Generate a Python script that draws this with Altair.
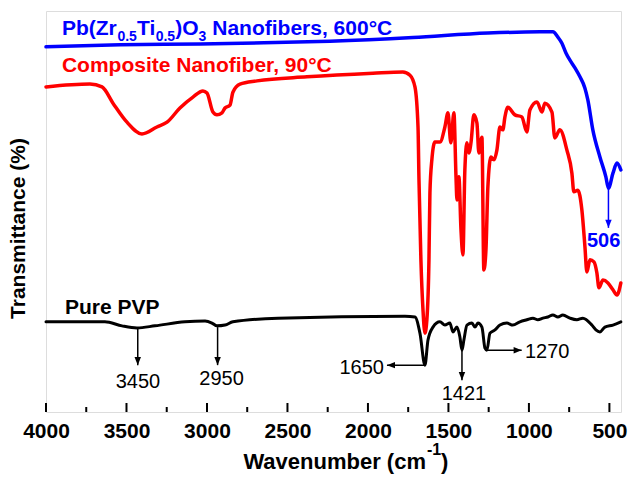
import altair as alt
import pandas as pd

# ---------------- data ----------------
# Pure PVP (black)
pvp_wn = [4000, 3634, 3528, 3435, 3323, 3137, 3012, 2969, 2938, 2888,
          2839, 2559, 1770, 1708, 1677, 1646, 1627, 1596, 1553, 1522,
          1491, 1472, 1447, 1429, 1416, 1404, 1385, 1354, 1335, 1317,
          1292, 1273, 1261, 1242, 1211, 1180, 1137, 1100, 1056, 1013,
          975, 944, 913, 882, 851, 820, 789, 745, 702, 665,
          609, 584, 559, 528, 478, 429]
pvp_t = [23.5, 23.5, 22.5, 22.0, 22.5, 23.5, 23.7, 23.2, 22.5, 22.7,
         23.5, 24.4, 24.9, 24.7, 20.7, 12.8, 19.0, 22.2, 23.5, 22.7,
         23.2, 21.0, 22.2, 19.8, 16.5, 19.0, 22.7, 23.2, 22.2, 23.2,
         22.2, 17.0, 16.5, 20.7, 21.5, 22.7, 23.2, 22.7, 23.5, 24.0,
         24.4, 24.0, 24.4, 24.7, 25.2, 24.7, 25.2, 24.4, 24.0, 24.4,
         22.7, 21.5, 21.0, 22.2, 22.7, 23.5]

# Composite nanofiber, 90 C (red)
comp_wn = [4000, 3727, 3652, 3584, 3497, 3404, 3311, 3248, 3168, 3087,
           3025, 3000, 2963, 2938, 2907, 2888, 2857, 2839, 2795, 2689,
           2379, 1969, 1783, 1739, 1708, 1689, 1683, 1671, 1658, 1646,
           1634, 1621, 1615, 1603, 1584, 1553, 1522, 1503, 1485, 1466,
           1453, 1447, 1435, 1422, 1410, 1398, 1385, 1373, 1360, 1342,
           1323, 1311, 1292, 1280, 1267, 1255, 1236, 1217, 1199, 1180,
           1162, 1149, 1131, 1087, 1044, 1013, 994, 950, 919, 901,
           857, 839, 808, 764, 733, 721, 696, 671, 652, 640,
           621, 596, 578, 565, 540, 509, 478, 453, 429]
comp_t = [81.5, 82.2, 81.5, 77.5, 72.8, 69.9, 71.6, 72.8, 76.3, 79.0,
          80.5, 80.0, 75.3, 74.6, 75.1, 76.3, 77.0, 80.2, 82.2, 83.0,
          84.0, 84.9, 85.2, 84.4, 81.5, 71.6, 58.5, 38.8, 26.4, 20.7,
          24.0, 38.8, 55.3, 63.5, 67.9, 67.9, 71.6, 75.1, 67.7, 75.1,
          59.3, 53.6, 59.3, 46.2, 40.0, 61.0, 67.7, 65.2, 67.7, 74.6,
          72.6, 65.2, 69.1, 36.3, 41.2, 56.8, 64.2, 63.5, 65.9, 71.6,
          70.9, 74.1, 76.5, 74.6, 74.1, 70.4, 75.8, 77.8, 75.3, 77.5,
          75.3, 68.9, 70.9, 65.9, 60.2, 55.6, 56.0, 51.1, 42.0, 35.8,
          38.8, 38.3, 35.6, 31.9, 33.8, 33.1, 31.4, 30.1, 33.1]

# Pb(Zr0.5Ti0.5)O3 nanofibers, 600 C (blue)
pzt_wn = [4000, 3540, 3043, 2646, 2236, 1720, 1255, 932, 851, 820,
          795, 770, 745, 714, 683, 652, 634, 603, 559, 522,
          506, 478, 453, 429]
pzt_t = [91.4, 91.9, 92.1, 92.4, 92.8, 93.7, 94.8, 95.1, 95.1, 93.8,
         92.3, 89.9, 88.1, 86.2, 84.0, 81.2, 78.3, 70.9, 64.2, 59.3,
         56.5, 60.2, 62.7, 61.0]

# axis ticks
major_ticks = [4000, 3500, 3000, 2500, 2000, 1500, 1000, 500]
minor_ticks = [3750, 3250, 2750, 2250, 1750, 1250, 750]

# peak annotations (vertical arrows: start -> tip)
v_arrow_wn = [3430, 2934, 1416]
v_arrow_t0 = [22.0, 22.2, 16.5]
v_arrow_t1 = [12.8, 12.8, 9.1]
v_label_text = ["3450", "2950", "1421"]
v_label_wn = [3429, 2909, 1404]
v_label_t = [8.7, 9.4, 5.7]

# horizontal arrows
h_arrow_t = [12.8, 16.5]
h_arrow_wn0 = [1646, 1261]
h_arrow_wn1 = [1882, 1045]
h_arrow_dir = ["left", "right"]
left_label = ["1650"]
left_label_wn = [1901]
left_label_t = [12.2]
right_label = ["1270"]
right_label_wn = [1025]
right_label_t = [16.1]

# blue peak
pzt_peak_wn = [506]
pzt_peak_t0 = [56.5]
pzt_peak_t1 = [46.7]
pzt_peak_label = ["506"]
pzt_peak_label_wn = [536]
pzt_peak_label_t = [43.5]

# ---------------- chart ----------------
FONT = "Liberation Sans"
W, H = 575, 401
XS = alt.Scale(domain=[428, 4000], reverse=True, nice=False, zero=False)
YS = alt.Scale(domain=[1.23, 100.25], nice=False, zero=False)

XAXIS = alt.Axis(values=major_ticks, format="d", labelFont=FONT, labelFontSize=21,
                 labelFontWeight="bold", labelColor="black", ticks=False, domain=False,
                 grid=False, title=None, labelPadding=8, labelFlush=False,
                 labelOverlap=False)
YAXIS = alt.Axis(labels=False, ticks=False, domain=False, grid=False,
                 title="Transmittance (%)", titleFont=FONT, titleFontSize=21,
                 titleFontWeight="bold", titleColor="black", titleX=-28, titleY=217,
                 titleAngle=270, titleAlign="center", titleBaseline="middle")


def X(f="wn"):
    return alt.X(f"{f}:Q", scale=XS, axis=XAXIS)


def Y(f="t"):
    return alt.Y(f"{f}:Q", scale=YS, axis=YAXIS)


def line(wn, t, color, width):
    df = pd.DataFrame({"wn": wn, "t": t, "i": list(range(len(wn)))})
    return alt.Chart(df).mark_line(color=color, strokeWidth=width, strokeJoin="round",
                                   strokeCap="round", interpolate="monotone").encode(
        x=X(), y=Y(), order="i:Q")


black = line(pvp_wn, pvp_t, "black", 3)
red = line(comp_wn, comp_t, "#ff0000", 3.5)
blue = line(pzt_wn, pzt_t, "#0000ff", 3.5)

# ticks (inward)
maj = alt.Chart(pd.DataFrame({"wn": major_ticks})).mark_rule(color="black", strokeWidth=2).encode(
    x=X(), y=alt.value(H), y2=alt.value(H - 9))
mnr = alt.Chart(pd.DataFrame({"wn": minor_ticks})).mark_rule(color="black", strokeWidth=2).encode(
    x=X(), y=alt.value(H), y2=alt.value(H - 5))

DOWN = "M0,0 L-0.4,-1 L0.4,-1 Z"
LEFT = "M0,0 L1,-0.4 L1,0.4 Z"
RIGHT = "M0,0 L-1,-0.4 L-1,0.4 Z"

vdf = pd.DataFrame({"wn": v_arrow_wn, "t": v_arrow_t0, "t1": v_arrow_t1})
v_rules = alt.Chart(vdf).mark_rule(color="black", strokeWidth=1.5).encode(
    x=X(), y=Y(), y2="t1:Q")
v_heads = alt.Chart(vdf).mark_point(shape=DOWN, filled=True, color="black", opacity=1,
                                    size=260).encode(x=X(), y=Y("t1"))

hdf = pd.DataFrame({"wn": h_arrow_wn0, "wn1": h_arrow_wn1, "t": h_arrow_t, "dir": h_arrow_dir})
h_rules = alt.Chart(hdf).mark_rule(color="black", strokeWidth=1.5).encode(
    x=X(), x2="wn1:Q", y=Y())
h_heads = alt.Chart(hdf).mark_point(filled=True, color="black", opacity=1, size=260).encode(
    x=X("wn1"), y=Y(),
    shape=alt.Shape("dir:N", scale=alt.Scale(domain=["left", "right"], range=[LEFT, RIGHT]),
                    legend=None))

ann_font = dict(font=FONT, fontSize=20, color="black")
v_labels = alt.Chart(pd.DataFrame({"wn": v_label_wn, "t": v_label_t, "s": v_label_text})).mark_text(
    align="center", baseline="middle", **ann_font).encode(x=X(), y=Y(), text="s:N")
l_labels = alt.Chart(pd.DataFrame({"wn": left_label_wn, "t": left_label_t, "s": left_label})).mark_text(
    align="right", baseline="middle", **ann_font).encode(x=X(), y=Y(), text="s:N")
r_labels = alt.Chart(pd.DataFrame({"wn": right_label_wn, "t": right_label_t, "s": right_label})).mark_text(
    align="left", baseline="middle", **ann_font).encode(x=X(), y=Y(), text="s:N")

bdf = pd.DataFrame({"wn": pzt_peak_wn, "t": pzt_peak_t0, "t1": pzt_peak_t1})
b_rule = alt.Chart(bdf).mark_rule(color="#0000ff", strokeWidth=1.5).encode(x=X(), y=Y(), y2="t1:Q")
b_head = alt.Chart(bdf).mark_point(shape=DOWN, filled=True, color="#0000ff", opacity=1,
                                   size=260).encode(x=X(), y=Y("t1"))
b_label = alt.Chart(pd.DataFrame({"wn": pzt_peak_label_wn, "t": pzt_peak_label_t,
                                  "s": pzt_peak_label})).mark_text(
    align="center", baseline="middle", font=FONT, fontSize=20, fontWeight="bold",
    color="#0000ff").encode(x=X(), y=Y(), text="s:N")

# series names
pvp_name = alt.Chart(pd.DataFrame({"wn": [3882], "t": [25.4], "s": ["Pure PVP"]})).mark_text(
    align="left", baseline="alphabetic", font=FONT, fontSize=21, fontWeight="bold",
    color="black").encode(x=X(), y=Y(), text="s:N")
comp_name = alt.Chart(pd.DataFrame({"wn": [3901], "t": [85.3],
                                    "s": ["Composite Nanofiber, 90°C"]})).mark_text(
    align="left", baseline="alphabetic", font=FONT, fontSize=21, fontWeight="bold",
    color="#ff0000").encode(x=X(), y=Y(), text="s:N")

# Pb(Zr0.5Ti0.5)O3 with subscripts
pzt_parts = ["Pb(Zr", "0.5", "Ti", "0.5", ")O", "3", "Nanofibers, 600°C"]
pzt_sub = [False, True, False, True, False, True, False]
pzt_dx = [0, 55.5, 75, 93.7, 113.2, 136.5, 150.3]
pzt_layers = []
for s, sub, dx in zip(pzt_parts, pzt_sub, pzt_dx):
    pzt_layers.append(
        alt.Chart(pd.DataFrame({"wn": [3901], "t": [94.3], "s": [s]})).mark_text(
            align="left", baseline="alphabetic", font=FONT, fontSize=14 if sub else 21,
            fontWeight="bold", color="#0000ff", dx=dx, dy=6 if sub else 0).encode(
            x=X(), y=Y(), text="s:N"))

# x-axis title with superscript
xt_main = alt.Chart(pd.DataFrame({"s": ["Wavenumber (cm"]})).mark_text(
    align="right", baseline="alphabetic", font=FONT, fontSize=22, fontWeight="bold",
    color="black").encode(x=alt.value(380), y=alt.value(458), text="s:N")
xt_sup = alt.Chart(pd.DataFrame({"s": ["-1"]})).mark_text(
    align="left", baseline="alphabetic", font=FONT, fontSize=16, fontWeight="bold",
    color="black").encode(x=alt.value(381), y=alt.value(444), text="s:N")
xt_close = alt.Chart(pd.DataFrame({"s": [")"]})).mark_text(
    align="left", baseline="alphabetic", font=FONT, fontSize=22, fontWeight="bold",
    color="black").encode(x=alt.value(395), y=alt.value(458), text="s:N")

chart = alt.layer(
    black, red, blue, maj, mnr, v_rules, v_heads, h_rules, h_heads,
    v_labels, l_labels, r_labels, b_rule, b_head, b_label,
    pvp_name, comp_name, *pzt_layers, xt_main, xt_sup, xt_close
).properties(
    width=W, height=H,
    autosize=alt.AutoSizeParams(type="none"),
    padding={"left": 46, "top": 11, "right": 9, "bottom": 67},
    background="white",
).configure_view(
    stroke="black", strokeWidth=2
).configure(font=FONT)

chart.save("out.html", embed_options={"renderer": "svg", "actions": False})
